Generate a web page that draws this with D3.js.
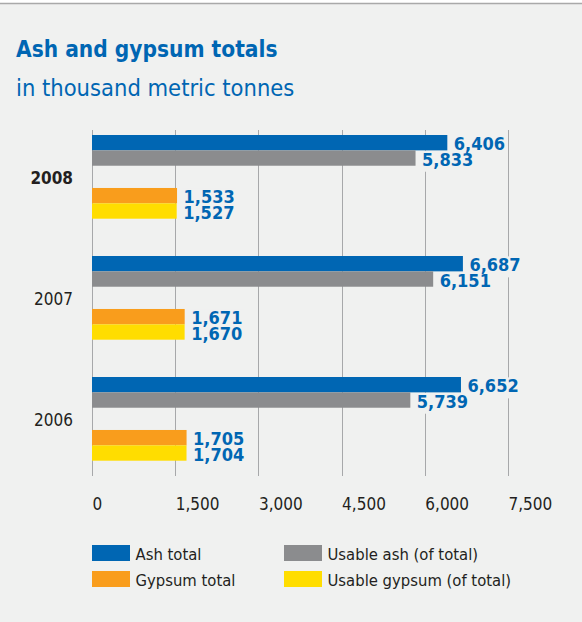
<!DOCTYPE html>
<meta charset="utf-8">
<style>
    body {
        margin: 0;
        background: #fff;
    }

    text {
        font-family: "DejaVu Sans Condensed", "DejaVu Sans", sans-serif;
        fill: #231f20;
    }

    .grid line {
        stroke: #a7a8aa;
        stroke-width: 1;
        shape-rendering: crispEdges;
    }

    .grid text {
        font-size: 17px;
        fill: #231f20;
    }

    .value {
        font-size: 18px;
        font-weight: bold;
        fill: #0066b3;
    }
</style>

<body>
    <script src="https://cdnjs.cloudflare.com/ajax/libs/d3/7.8.5/d3.min.js"></script>
    <script>

        // values (thousand metric tonnes)
        var years = ["2008", "2007", "2006"];
        var ashTotal = [6406, 6687, 6652];
        var usableAsh = [5833, 6151, 5739];
        var gypsumTotal = [1533, 1671, 1705];
        var usableGypsum = [1527, 1670, 1704];
        var tickValues = [0, 1500, 3000, 4500, 6000, 7500];

        var seriesNames = ["Ash total", "Usable ash (of total)", "Gypsum total", "Usable gypsum (of total)"];
        var seriesColors = ["#0066b3", "#8b8c8e", "#f99d1c", "#ffdd00"];

        var width = 582, height = 622;
        var bg = "#f0f1f0";

        var svg = d3.select("body").append("svg")
            .attr("width", width)
            .attr("height", height);

        svg.append("rect")
            .attr("y", 4)
            .attr("width", width)
            .attr("height", height - 4)
            .attr("fill", bg);

        svg.append("line")
            .attr("x1", 0).attr("x2", width)
            .attr("y1", 3.5).attr("y2", 3.5)
            .attr("stroke", "#a9a9a9")
            .attr("stroke-width", 1.5);

        svg.append("text")
            .attr("x", 16)
            .attr("y", 57)
            .style("font-size", "22.5px")
            .style("font-weight", "bold")
            .style("fill", "#0066b3")
            .text("Ash and gypsum totals");

        svg.append("text")
            .attr("x", 16)
            .attr("y", 96)
            .style("font-size", "23.5px")
            .style("fill", "#0066b3")
            .text("in thousand metric tonnes");

        var gridTop = 130, gridBottom = 476;

        var x = d3.scaleLinear()
            .domain([0, 7500])
            .range([92, 508]);

        var y = d3.scaleBand()
            .domain(years)
            .range([135, 135 + 121 * years.length]);

        // two pairs (ash, gypsum) per year, two bars (total, usable) per pair
        var pair = d3.scaleBand()
            .domain(["ash", "gypsum"])
            .range([0, 83.7])
            .paddingInner(0.42);

        var sub = d3.scaleBand()
            .domain(["total", "usable"])
            .range([0, pair.bandwidth()]);

        var rows = [];
        years.forEach(function (yr, i) {
            rows.push({ year: yr, pair: "ash", kind: "total", value: ashTotal[i], s: 0 });
            rows.push({ year: yr, pair: "ash", kind: "usable", value: usableAsh[i], s: 1 });
            rows.push({ year: yr, pair: "gypsum", kind: "total", value: gypsumTotal[i], s: 2 });
            rows.push({ year: yr, pair: "gypsum", kind: "usable", value: usableGypsum[i], s: 3 });
        });

        function barY(d) { return y(d.year) + pair(d.pair) + sub(d.kind); }

        // grid lines + tick labels
        var grid = svg.append("g")
            .attr("class", "grid")
            .attr("transform", "translate(0," + gridBottom + ")")
            .call(d3.axisBottom(x)
                .tickValues(tickValues)
                .tickSize(-(gridBottom - gridTop))
                .tickFormat(d3.format(",")));

        grid.select(".domain").remove();
        grid.selectAll("text")
            .attr("y", 34)
            .attr("dy", null)
            .attr("x", 0)
            .attr("text-anchor", "start")
            .attr("font-family", null)
            .attr("font-size", null);

        // layers: knock-outs under bars, value labels on top
        var knock = svg.append("g");
        var bars = svg.append("g");
        var labels = svg.append("g");

        // year labels
        svg.selectAll(".year")
            .data(years)
            .enter().append("text")
            .attr("class", "year")
            .attr("x", 73)
            .attr("y", function (d) { return y(d) + pair.range()[1] / 2 + 7; })
            .attr("text-anchor", "end")
            .style("font-size", "17px")
            .style("font-weight", function (d, i) { return i == 0 ? "bold" : "normal"; })
            .text(function (d) { return d; });

        var fmt = d3.format(",");

        bars.selectAll("rect")
            .data(rows)
            .enter().append("rect")
            .attr("x", x(0))
            .attr("y", barY)
            .attr("width", function (d) { return x(d.value) - x(0); })
            .attr("height", sub.bandwidth())
            .attr("fill", function (d) { return seriesColors[d.s]; });

        var valueText = labels.selectAll("text")
            .data(rows)
            .enter().append("text")
            .attr("class", "value")
            .attr("x", function (d) { return x(d.value) + 6.5; })
            .attr("y", function (d) { return barY(d) + sub.bandwidth(); })
            .text(function (d) { return fmt(d.value); });

        valueText.each(function () {
            var bb = this.getBBox();
            knock.append("rect")
                .attr("x", bb.x - 2)
                .attr("y", bb.y + 2)
                .attr("width", bb.width + 4)
                .attr("height", bb.height)
                .attr("fill", bg);
        });

        // legend
        var legend = svg.selectAll(".legend")
            .data(seriesNames)
            .enter().append("g")
            .attr("class", "legend")
            .attr("transform", function (d, i) {
                return "translate(" + (i % 2 == 0 ? 92 : 284) + "," + (545 + Math.floor(i / 2) * 26) + ")";
            });

        legend.append("rect")
            .attr("width", 38)
            .attr("height", 16)
            .attr("fill", function (d, i) { return seriesColors[i]; });

        legend.append("text")
            .attr("x", 43.5)
            .attr("y", 14.5)
            .style("font-size", "16.5px")
            .text(function (d) { return d; });

    </script>
</body>
